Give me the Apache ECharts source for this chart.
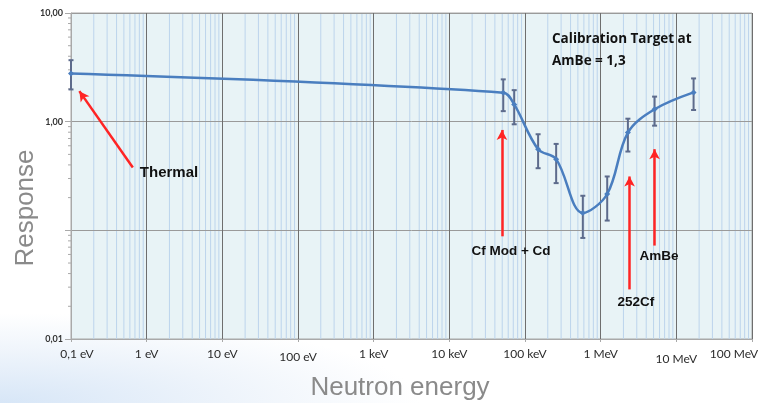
<!DOCTYPE html>
<html>
<head>
<meta charset="utf-8">
<script src="https://cdn.jsdelivr.net/npm/echarts@6/dist/echarts.min.js"></script>
<style>
html,body{margin:0;padding:0;}
body{width:758px;height:403px;background:radial-gradient(ellipse 420px 90px at 0px 403px,#d7e6f7 0%,#eef4fb 55%,#ffffff 100%);}
#c{width:758px;height:403px;}
</style>
</head>
<body>
<div id="c"></div>
<script>
// ---- data (energies in eV) ----
const energies   = [0.1, 51600, 72000, 149000, 258000, 581000, 1220000, 2290000, 5160000, 16900000];
const responses  = [2.78, 1.85, 1.44, 0.558, 0.452, 0.1445, 0.216, 0.793, 1.30, 1.86];
const errLow     = [1.98, 1.25, 0.946, 0.373, 0.272, 0.0851, 0.123, 0.531, 0.919, 1.28];
const errHigh    = [3.68, 2.45, 1.95, 0.766, 0.624, 0.208, 0.313, 1.065, 1.70, 2.50];
const xTickLabels = ['0,1 eV','1 eV','10 eV','100 eV','1 keV','10 keV','100 keV','1 MeV','10 MeV','100 MeV'];
const yTickLabels = {'-2':'0,01','-1':'','0':'1,00','1':'10,00'};
const xDecades = [0.1,1,10,100,1e3,1e4,1e5,1e6,1e7];
const yDecades = [0.01,0.1,1];
// annotations: [label, arrow tail, arrow tip, label position]
const annotations = [
  {text:'Thermal',      tail:[0.656,0.378],  tip:[0.129,1.91],   at:[0.8,0.336],  pos:'right', size:15},
  {text:'Cf Mod + Cd',  tail:[49600,0.0881], tip:[49600,0.839],  at:[65300,0.0641], pos:'inside', size:13.5},
  {text:'252Cf',        tail:[2410000,0.0286], tip:[2410000,0.313], at:[2910000,0.0216], pos:'inside', size:13.5},
  {text:'AmBe',         tail:[5160000,0.0724], tip:[5160000,0.558], at:[5920000,0.0577], pos:'inside', size:13.5}
];
const calibText = 'Calibration Target at\nAmBe = 1,3';
const xTitle = 'Neutron energy';
const yTitle = 'Response';

const minorX = [];
xDecades.forEach(d=>{for(let k=2;k<=9;k++) minorX.push([d*k,1]);});
const minorY = [];
yDecades.forEach(d=>{for(let k=2;k<=9;k++) minorY.push([0.1,d*k]);});

const chart = echarts.init(document.getElementById('c'), null, {renderer:'canvas'});
const X0 = 0.1, X1 = 1e8, Y0 = 0.01, Y1 = 10;

function xLabel(v){
  const i = Math.round(Math.log10(v)) + 1;
  const t = xTickLabels[i];
  if (i === 0) return '{first|' + t + '}';
  if (i === 9) return '{last|' + t + '}';
  if (i === 3) return '{low|' + t + '}';
  if (i === 8) return '{lower|' + t + '}';
  if (i === 1) return '{high|' + t + '}';
  return '{n|' + t + '}';
}
const lblBase = {fontFamily:'Lato', fontSize:12, color:'#2b2b2b'};

chart.setOption({
  animation:false,
  backgroundColor:'transparent',
  title:{
    text:calibText, left:547, top:23,
    textStyle:{fontFamily:'Open Sans', fontWeight:'bold', fontSize:13.5, color:'#111', lineHeight:22}
  },
  graphic:[
    {type:'text', x:13, y:208, rotation:Math.PI/2, style:{text:yTitle, font:'26px "Liberation Sans"', fill:'#8a8a8a', align:'center', verticalAlign:'top'}},
    {type:'text', x:400, y:388, style:{text:xTitle, font:'26px "Liberation Sans"', fill:'#8a8a8a', align:'center', verticalAlign:'middle'}}
  ],
  grid:{left:71, right:6, top:13, bottom:64, outerBoundsMode:'none', containLabel:false, show:true, backgroundColor:'#e8f3f6', borderColor:'#a9a9a9', borderWidth:1, z:0},
  xAxis:{
    type:'log', logBase:10, min:X0, max:X1, splitNumber:9, z:1,
    axisLine:{show:true, lineStyle:{color:'#a9a9a9'}},
    axisTick:{show:true, length:3, lineStyle:{color:'#a9a9a9'}},
    splitLine:{show:true, lineStyle:{color:'#6e6e6e', width:1}},
    axisLabel:{margin:9, formatter:xLabel, hideOverlap:false,
      rich:{
        n:Object.assign({}, lblBase),
        first:Object.assign({padding:[0,0,0,12]}, lblBase),
        last:Object.assign({padding:[0,36,0,0]}, lblBase),
        low:Object.assign({padding:[3,0,0,0]}, lblBase),
        lower:Object.assign({padding:[5,0,0,0]}, lblBase),
        high:Object.assign({padding:[0,0,3,0]}, lblBase)
      }}
  },
  yAxis:{
    type:'log', logBase:10, min:Y0, max:Y1, splitNumber:3, z:1,
    axisLine:{show:true, lineStyle:{color:'#a9a9a9'}},
    axisTick:{show:true, length:6, lineStyle:{color:'#a9a9a9'}},
    splitLine:{show:true, lineStyle:{color:'#9a9a9a', width:1}},
    axisLabel:{margin:8, fontFamily:'Lato', fontWeight:'bold', fontSize:9, color:'#333',
      formatter:function(v){ return yTickLabels[String(Math.round(Math.log10(v)))] || ''; }}
  },
  series:[
    { // minor vertical grid lines
      type:'custom', silent:true, z:0.5, clip:true,
      data:minorX,
      renderItem:function(params, api){
        const a = api.coord([api.value(0), Y1]);
        const b = api.coord([api.value(0), Y0]);
        return {type:'line', shape:{x1:a[0], y1:a[1], x2:b[0], y2:b[1]}, style:{stroke:'#bcd4ec', lineWidth:1}};
      }
    },
    { // minor y ticks
      type:'custom', silent:true, z:1,
      data:minorY,
      renderItem:function(params, api){
        const p = api.coord([X0, api.value(1)]);
        return {type:'line', shape:{x1:p[0]-3, y1:p[1], x2:p[0], y2:p[1]}, style:{stroke:'#a9a9a9', lineWidth:1}};
      }
    },
    { // error bars
      type:'custom', silent:true, z:3,
      data:energies.map((e,i)=>[e, errLow[i], errHigh[i]]),
      encode:{x:0, y:[1,2]},
      renderItem:function(params, api){
        const lo = api.coord([api.value(0), api.value(1)]);
        const hi = api.coord([api.value(0), api.value(2)]);
        const w = 2.5;
        const st = {stroke:'#5d6b8c', lineWidth:2};
        return {type:'group', children:[
          {type:'line', shape:{x1:lo[0], y1:lo[1], x2:hi[0], y2:hi[1]}, style:st},
          {type:'line', shape:{x1:lo[0]-w, y1:lo[1], x2:lo[0]+w, y2:lo[1]}, style:st},
          {type:'line', shape:{x1:hi[0]-w, y1:hi[1], x2:hi[0]+w, y2:hi[1]}, style:st}
        ]};
      }
    },
    { // response curve
      type:'line', z:4,
      data:energies.map((e,i)=>[e, responses[i]]),
      smooth:0.35,
      symbol:'diamond', symbolSize:6,
      lineStyle:{color:'#4a7ebf', width:2.5},
      itemStyle:{color:'#4a7ebf'},
      emphasis:{disabled:true},
      markLine:{
        silent:true, symbol:['none','arrow'], symbolSize:[8,10],
        label:{show:false},
        lineStyle:{color:'#ff2424', width:2.5, type:'solid'},
        emphasis:{disabled:true},
        data:annotations.map(a=>[{coord:a.tail},{coord:a.tip}])
      },
      markPoint:{
        silent:true, symbol:'circle', symbolSize:1,
        itemStyle:{color:'rgba(0,0,0,0)'},
        data:annotations.map(a=>({coord:a.at, label:{show:true, formatter:a.text, position:a.pos, distance:0,
          fontFamily:'Liberation Sans', fontWeight:'bold', fontSize:a.size, color:'#111'}}))
      }
    }
  ]
});
</script>
</body>
</html>
